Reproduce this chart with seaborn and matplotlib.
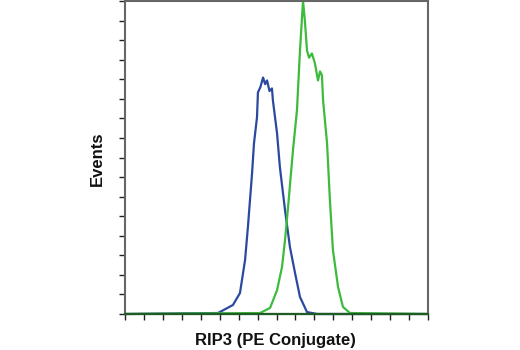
import matplotlib
matplotlib.use("Agg")
import matplotlib.pyplot as plt
import seaborn as sns
import pandas as pd
from matplotlib.ticker import MultipleLocator

sns.set_style("white")
plt.rcParams['font.family'] = ['Liberation Sans', 'DejaVu Sans']

# Isotype control (blue)
blue_x = [0, 49.1, 57.0, 60.7, 63.4, 64.9, 67.1, 68.1, 69.7, 70.2, 71.5, 72.9, 74.0, 75.0, 76.3,
          77.6, 78.1, 80.3, 81.8, 84.5, 87.1, 89.8, 92.4, 96.1, 101.4, 160]
blue_y = [0, 0.5, 4.6, 10.7, 27.6, 44.4, 72.0, 87.2, 100.5, 113.3, 116.0, 120.9, 117.5, 119.4, 114.0,
          115.3, 109.2, 92.3, 75.0, 53.1, 34.2, 20.9, 8.7, 1.0, 0, 0]
# RIP3 (PE Conjugate) stained (green)
green_x = [0, 71.3, 76.6, 80.3, 82.9, 84.5, 86.1, 88.7, 90.8, 92.4, 94.0, 95.0, 96.1, 97.2, 98.7,
           100.3, 101.9, 103.0, 104.0, 104.6, 106.7, 108.2, 109.8, 112.5, 115.1, 118.8, 160]
green_y = [0, 0.5, 3.1, 12.2, 24.0, 37.8, 54.6, 83.7, 104.1, 134.7, 160.0, 149.8, 134.7, 131.0, 133.2,
           128.1, 119.4, 124.0, 122.0, 109.2, 87.2, 58.2, 32.7, 13.8, 3.6, 0.5, 0]

df_blue = pd.DataFrame({"x": blue_x, "y": blue_y})
df_green = pd.DataFrame({"x": green_x, "y": green_y})

fig = plt.figure(figsize=(5.2, 3.5), dpi=100)
ax = fig.add_axes([125/520, 1 - 314/350, 303/520, 313/350])

sns.lineplot(data=df_blue, x="x", y="y", sort=False, color="#2b4a9f", lw=1.6, ax=ax)
sns.lineplot(data=df_green, x="x", y="y", sort=False, color="#3dbb3d", lw=1.6, ax=ax)
for l in ax.lines:
    l.set_clip_on(False)
ax.plot([0, 160], [0, 0], color="#1f5c24", lw=1.6, clip_on=False, zorder=5)

ax.set_xlim(0, 160)
ax.set_ylim(0, 160)
ax.xaxis.set_major_locator(MultipleLocator(10))
ax.yaxis.set_major_locator(MultipleLocator(10))
ax.set_xticklabels([])
ax.set_yticklabels([])
ax.tick_params(axis="both", which="major", direction="out", length=4, width=1, color="#222222",
               bottom=True, left=True)
for s in ax.spines.values():
    s.set_color("#666666")
    s.set_linewidth(1.5)

ax.set_xlabel("RIP3 (PE Conjugate)", fontsize=12, fontweight="bold", color="#111111", va="center")
ax.set_ylabel("Events", fontsize=12, fontweight="bold", color="#111111", va="center")
ax.xaxis.set_label_coords(150/303, -(340 - 314)/313)
ax.yaxis.set_label_coords(-(125 - 97)/303, 155/313)

fig.savefig("out.png", dpi=100)
